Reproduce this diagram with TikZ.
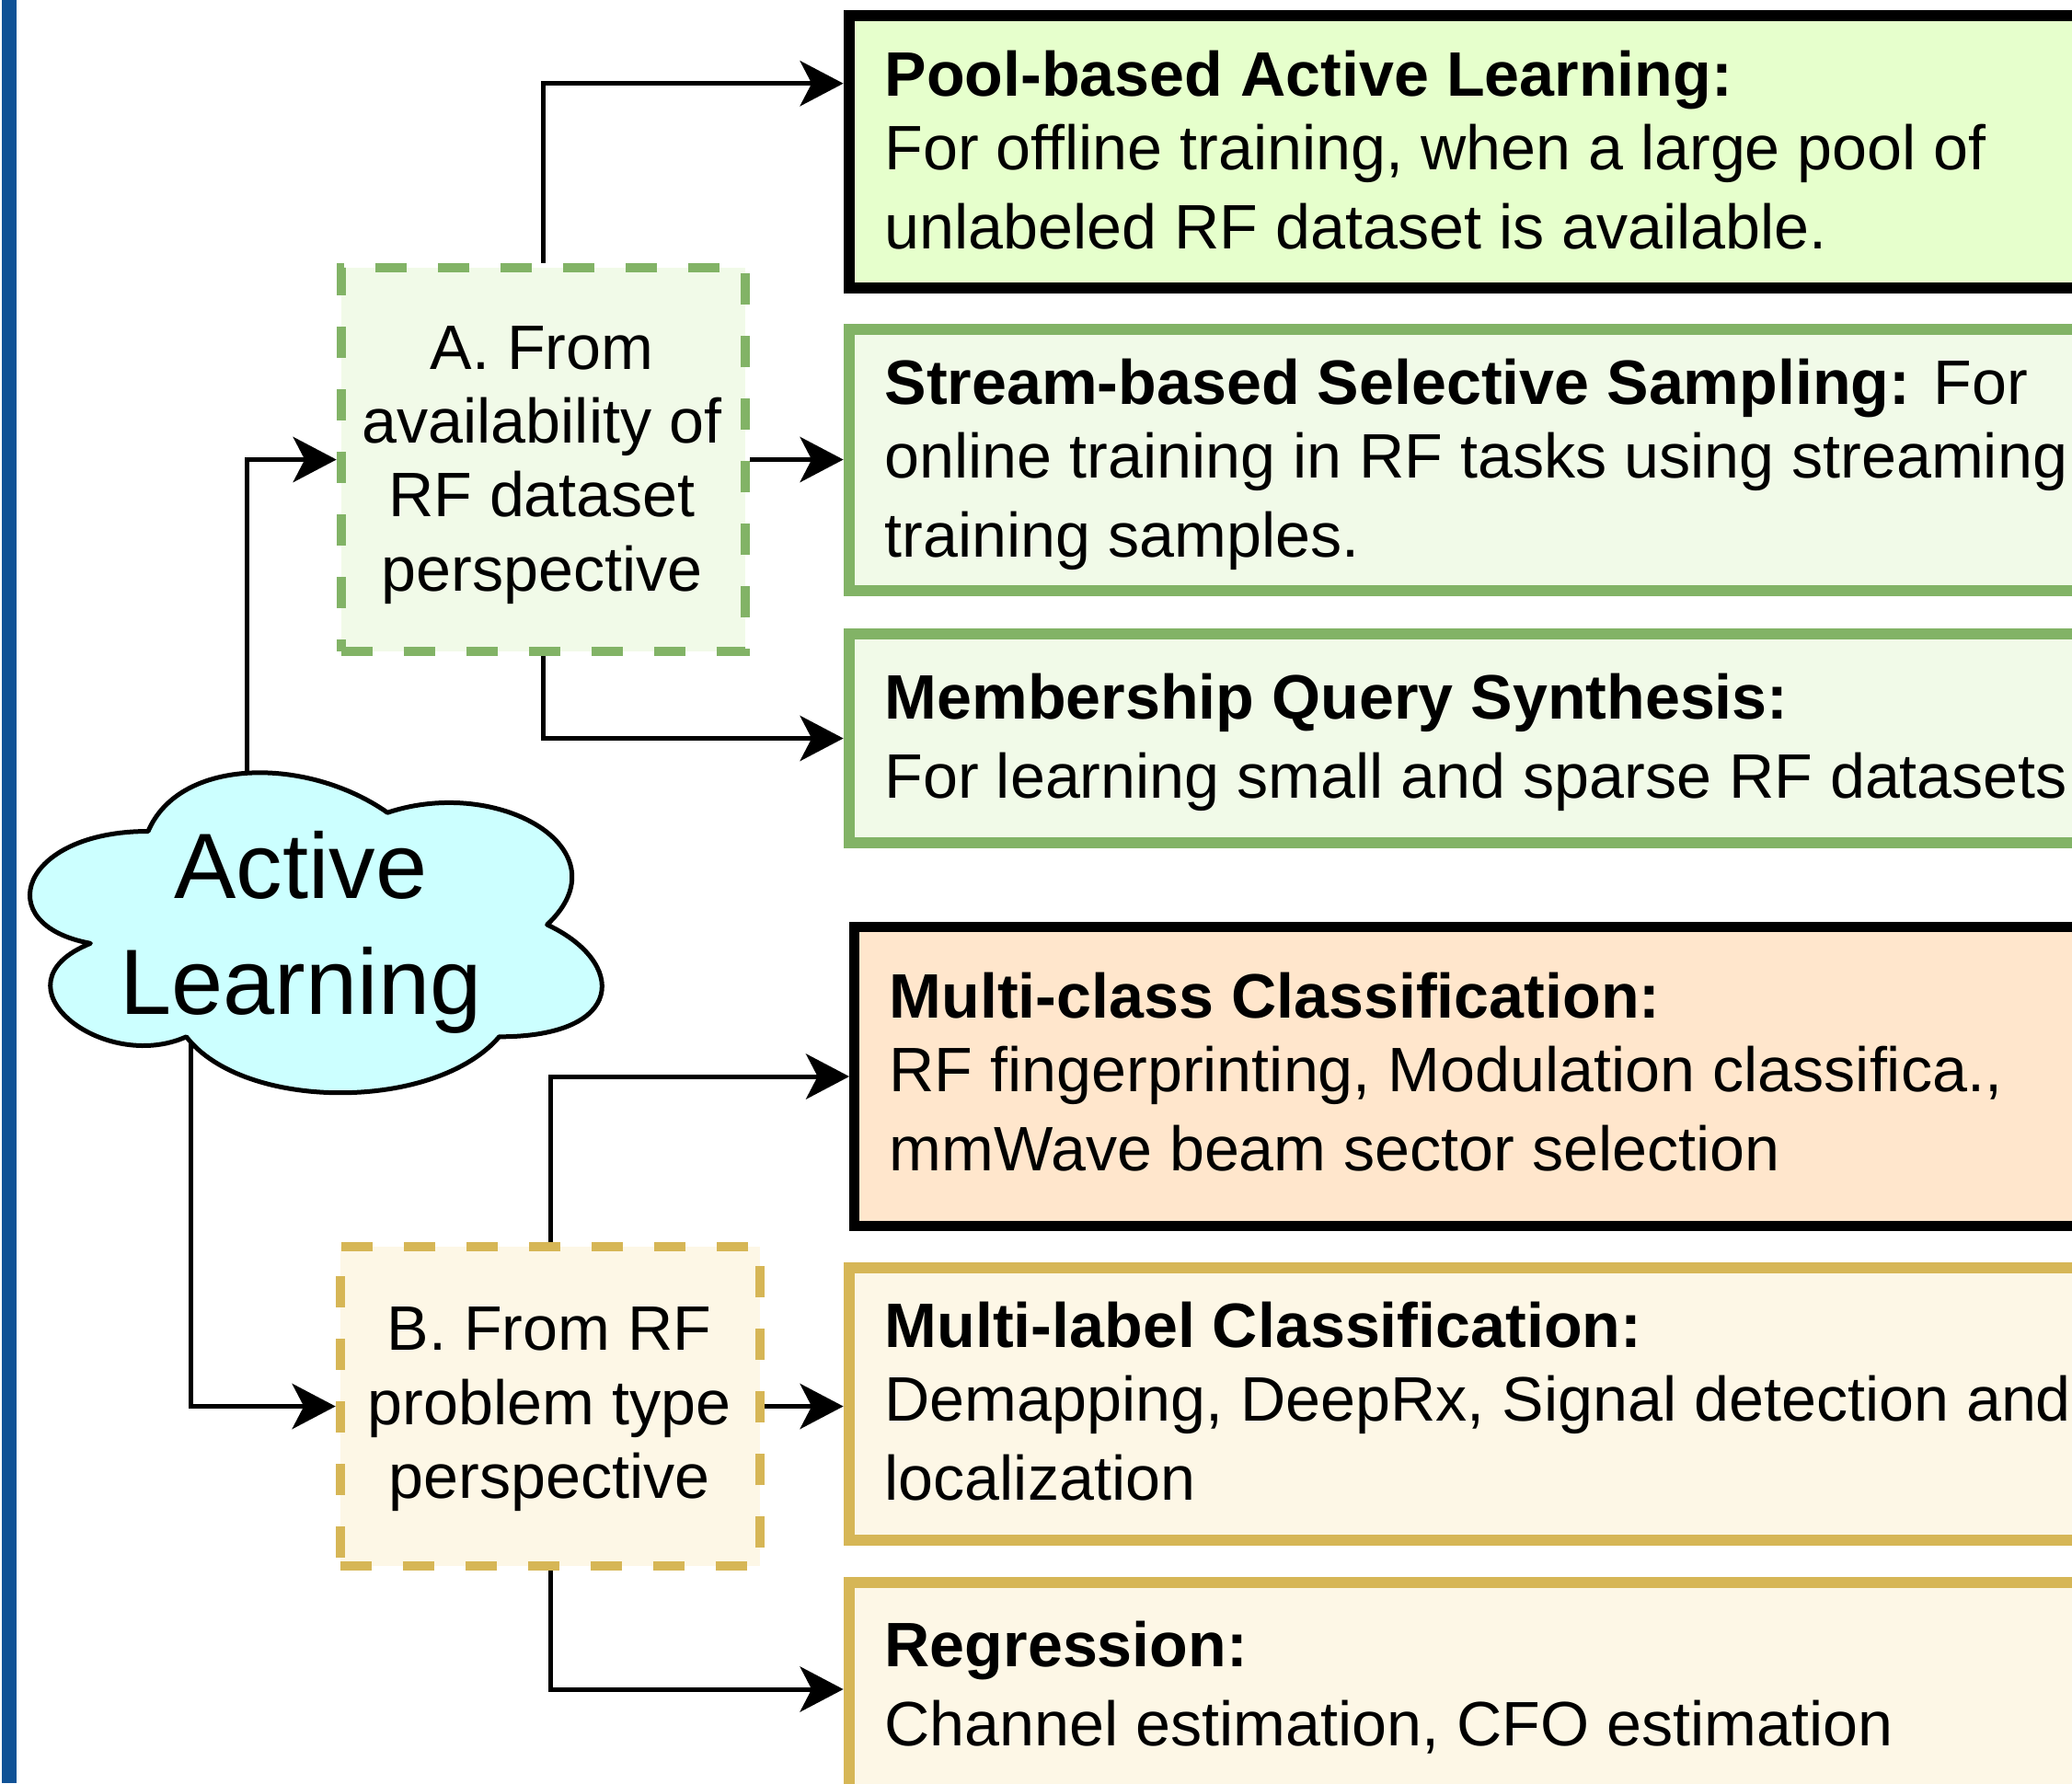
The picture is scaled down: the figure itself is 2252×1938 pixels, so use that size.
\documentclass[tikz,border=0pt]{standalone}
\usepackage{fontspec}
\setmainfont{Liberation Sans}
\usetikzlibrary{arrows.meta}
\definecolor{barblue}{RGB}{16,82,150}
\definecolor{limefill}{HTML}{E6FFCC}
\definecolor{greenfill}{HTML}{F1FAE8}
\definecolor{greenline}{HTML}{82B366}
\definecolor{peach}{HTML}{FFE6CC}
\definecolor{cream}{HTML}{FDF7E6}
\definecolor{goldline}{HTML}{D6B656}
\definecolor{cyanfill}{HTML}{CCFFFF}
\begin{document}
\begin{tikzpicture}[x=0.01cm,y=-0.01cm,
  conn/.style={line width=1.42pt,-{Stealth[length=13.4pt,width=14pt,inset=3.6pt]}},
  catbox/.style={rectangle,draw,inner sep=0pt,minimum width=13.77cm},
  blackbox/.style={catbox,draw=black,line width=3.4pt},
  greenbox/.style={catbox,draw=greenline,fill=greenfill,line width=3.4pt},
  goldbox/.style={catbox,draw=goldline,fill=cream,line width=3.4pt},
  persp/.style={rectangle,inner sep=0pt,line width=2.95pt,dash pattern=on 9.67pt off 9.67pt},
  boxtxt/.style={anchor=base west,align=left,inner sep=0pt,font=\fontsize{19.4}{24.19}\selectfont},
  persptxt/.style={anchor=base,align=center,inner sep=0pt,font=\fontsize{19.4}{22.76}\selectfont},
]
\useasboundingbox (0,0) rectangle (2252,1938);
\clip (0,0) rectangle (2252,1938);
\fill[white] (0,0) rectangle (2252,1938);
\fill[barblue] (2,0) rectangle (18,1938);

% category boxes (right)
\node[blackbox,fill=limefill,minimum height=2.955cm] (p1) at (1611.5,164.75) {};
\node[greenbox,minimum height=2.84cm] (p2) at (1611.5,500) {};
\node[greenbox,minimum height=2.27cm] (p3) at (1611.5,802.5) {};
\node[blackbox,fill=peach,line width=3.13pt,minimum width=13.71cm,minimum height=3.25cm] (p4) at (1614.5,1170) {};
\node[goldbox,minimum height=2.955cm] (p5) at (1611.5,1526.25) {};
\node[goldbox,minimum height=2.8cm] (p6) at (1611.5,1860) {};

% texts (base anchor = baseline of the last line)
\node[boxtxt] (t1) at (961,270) {\textbf{Pool-based Active Learning:}\\[-1.4pt]For offline training, when a large pool of\\unlabeled RF dataset is available.};
\node[boxtxt] (t2) at (961,605) {\textbf{Stream-based Selective Sampling:} For\\[-1.4pt]online training in RF tasks using streaming\\training samples.};
\node[boxtxt] (t3) at (961,867) {\textbf{Membership Query Synthesis:}\\For learning small and sparse RF datasets};
\node[boxtxt] (t4) at (966,1272) {\textbf{Multi-class Classification:}\\[-1.4pt]RF fingerprinting, Modulation classifica.,\\mmWave beam sector selection};
\node[boxtxt] (t5) at (961,1630) {\textbf{Multi-label Classification:}\\[-1.4pt]Demapping, DeepRx, Signal detection and\\localization};
\node[boxtxt] (t6) at (961,1897) {\textbf{Regression:}\\Channel estimation, CFO estimation};

% perspective boxes
\node[persp,draw=greenline,fill=greenfill,minimum width=4.39cm,minimum height=4.17cm] (A) at (590.5,499.5) {};
\node[persptxt] (At) at (589,642) {A. From\\availability of\\RF dataset\\perspective};
\node[persp,draw=goldline,fill=cream,minimum width=4.56cm,minimum height=3.47cm] (B) at (598,1528.5) {};
\node[persptxt] (Bt) at (597,1628) {B. From RF\\problem type\\perspective};

% cloud anchor points
\coordinate (cloudtop) at (268,845);
\coordinate (cloudbot) at (207,1124);

% connectors
\draw[conn] (cloudtop) |- (A.west);
\draw[conn] (cloudbot) |- (B.west);
\draw[conn] (A.north) |- ([yshift=0.74cm]p1.west);
\draw[conn] (A.east) -- (A.east -| p2.west);
\draw[conn] (A.south) |- (p3.west);
\draw[conn] (B.north) |- (p4.west);
\draw[conn] (B.east) -- (B.east -| p5.west);
\draw[conn] (B.south) |- ([yshift=0.24cm]p6.west);

% cloud
\draw[line width=1.42pt,fill=cyanfill,line join=round]
  (161.0,903.5) .. controls (22.1,903.5) and (-12.6,1005) .. (98.4,1025.3)
  .. controls (-12.6,1070.0) and (112.3,1167.4) .. (202.5,1126.8)
  .. controls (265.0,1208) and (473.2,1208) .. (542.6,1126.8)
  .. controls (681.4,1126.8) and (681.4,1045.6) .. (594.65,1005)
  .. controls (681.4,923.8) and (542.6,842.6) .. (421.15,883.2)
  .. controls (334.4,822.3) and (195.6,822.3) .. (161.0,903.5) -- cycle;
\node[anchor=base,align=center,inner sep=0pt,font=\fontsize{28.7}{35.57}\selectfont] (cloud) at (327,1102) {Active\\Learning};
\end{tikzpicture}
\end{document}
